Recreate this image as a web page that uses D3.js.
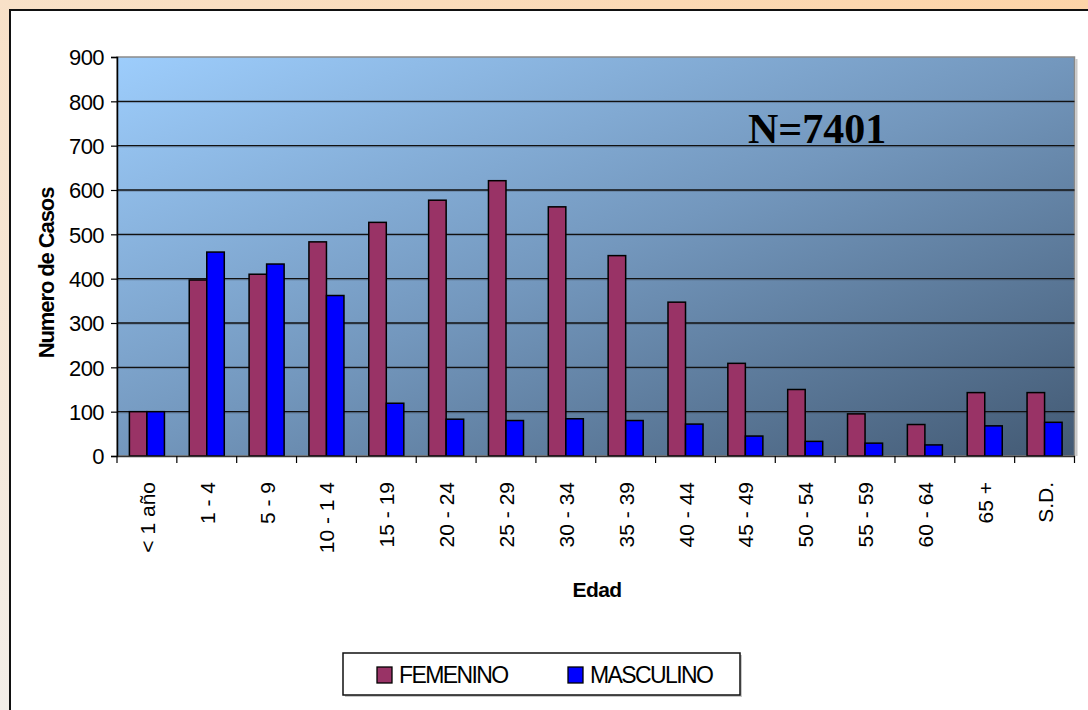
<!DOCTYPE html>
<html>
<head>
<meta charset="utf-8">
<script src="https://cdn.jsdelivr.net/npm/d3@7"></script>
<style>
  html, body { margin: 0; padding: 0; }
  body { width: 1088px; height: 710px; overflow: hidden; }
  svg { display: block; }
</style>
</head>
<body>
<svg id="chart" width="1088" height="710"></svg>
<script>
const categories = ["< 1 año", "1 - 4", "5 - 9", "10 - 1 4", "15 - 19", "20 - 24", "25 - 29", "30 - 34",
  "35 - 39", "40 - 44", "45 - 49", "50 - 54", "55 - 59", "60 - 64", "65 +", "S.D."];
const seriesNames = ["FEMENINO", "MASCULINO"];
const femenino = [100, 397, 410, 483, 527, 577, 621, 562, 452, 347, 209, 150, 95, 71, 143, 143];
const masculino = [100, 460, 433, 362, 119, 83, 80, 84, 80, 72, 45, 33, 29, 25, 68, 76];
const yTicks = [0, 100, 200, 300, 400, 500, 600, 700, 800, 900];
const colors = ["#993366", "#0000FF"];

(function () {
const svg = d3.select("#chart");
const defs = svg.append("defs");

const bg = defs.append("linearGradient").attr("id", "bgGrad")
  .attr("x1", "100%").attr("y1", "0%").attr("x2", "0%").attr("y2", "100%");
bg.append("stop").attr("offset", "0%").attr("stop-color", "#fdd4a8");
bg.append("stop").attr("offset", "100%").attr("stop-color", "#f3eee8");

const pg = defs.append("linearGradient").attr("id", "plotGrad")
  .attr("x1", "0%").attr("y1", "0%").attr("x2", "100%").attr("y2", "100%");
pg.append("stop").attr("offset", "0%").attr("stop-color", "#9dcdfc");
pg.append("stop").attr("offset", "50%").attr("stop-color", "#7397bd");
pg.append("stop").attr("offset", "100%").attr("stop-color", "#435a74");

svg.append("rect").attr("x", 0).attr("y", 0).attr("width", 1088).attr("height", 710).attr("fill", "url(#bgGrad)");
svg.append("rect").attr("x", 10).attr("y", 10).attr("width", 1100).attr("height", 720)
  .attr("fill", "#ffffff").attr("stroke", "#111").attr("stroke-width", 2);

const pLeft = 117, pRight = 1074.5, pTop = 57, pBottom = 456;

const x0 = d3.scaleBand().domain(categories).range([pLeft, pRight]).paddingInner(0).paddingOuter(0);
const x1 = d3.scaleBand().domain(seriesNames).range([0, x0.bandwidth()]).paddingInner(0).paddingOuter(0.708);
const y = d3.scaleLinear().domain([0, 900]).range([pBottom, pTop]);

svg.append("line").attr("x1", pRight + 2).attr("x2", pRight + 2).attr("y1", pTop + 2).attr("y2", pBottom)
  .attr("stroke", "#c8c8c8").attr("stroke-width", 2);
svg.append("rect").attr("x", pLeft).attr("y", pTop).attr("width", pRight - pLeft).attr("height", pBottom - pTop)
  .attr("fill", "url(#plotGrad)").attr("stroke", "#8a8a8a").attr("stroke-width", 1.5);

const grid = svg.append("g");
yTicks.filter(t => t > 0 && t < 900).forEach(t => {
  grid.append("line").attr("x1", pLeft).attr("x2", pRight).attr("y1", y(t) + 1.2).attr("y2", y(t) + 1.2)
    .attr("stroke", "rgba(60,70,85,0.35)").attr("stroke-width", 1);
  grid.append("line").attr("x1", pLeft).attr("x2", pRight).attr("y1", y(t)).attr("y2", y(t))
    .attr("stroke", "#111").attr("stroke-width", 1.4);
});

const data = categories.map((c, i) => ({ cat: c, vals: [femenino[i], masculino[i]] }));
const groups = svg.append("g").selectAll("g").data(data).join("g")
  .attr("transform", d => `translate(${x0(d.cat)},0)`);
groups.selectAll("rect").data(d => d.vals.map((v, j) => ({ s: seriesNames[j], v, j }))).join("rect")
  .attr("x", d => x1(d.s))
  .attr("y", d => y(d.v))
  .attr("width", x1.bandwidth())
  .attr("height", d => pBottom - y(d.v))
  .attr("fill", d => colors[d.j])
  .attr("stroke", "#000").attr("stroke-width", 1.5);

const yAxis = svg.append("g").attr("transform", `translate(${pLeft},0)`)
  .call(d3.axisLeft(y).tickValues(yTicks).tickSize(6).tickPadding(7).tickFormat(d3.format("d")));
yAxis.select(".domain").attr("stroke", "#000").attr("stroke-width", 1.5);
yAxis.selectAll(".tick line").attr("stroke", "#000").attr("stroke-width", 1.2);
yAxis.selectAll("text").attr("font-family", "Liberation Sans, Arial, sans-serif")
  .attr("font-size", 22).attr("letter-spacing", "-0.6px").attr("fill", "#000").attr("dy", "0.36em");

const xAxis = svg.append("g").attr("transform", `translate(0,${pBottom})`)
  .call(d3.axisBottom(x0).tickSize(0).tickPadding(0));
xAxis.select(".domain").attr("stroke", "#333").attr("stroke-width", 1.3);
xAxis.selectAll(".tick line").remove();
const bounds = categories.map(c => x0(c)).concat([pRight]);
svg.append("g").selectAll("line").data(bounds).join("line")
  .attr("x1", d => d).attr("x2", d => d).attr("y1", pBottom).attr("y2", pBottom + 7)
  .attr("stroke", "#000").attr("stroke-width", 1.2);
xAxis.selectAll(".tick text")
  .attr("font-family", "Liberation Sans, Arial, sans-serif")
  .attr("font-size", 21).attr("fill", "#000")
  .attr("text-anchor", "end")
  .attr("transform", "translate(8,26) rotate(-90)")
  .attr("x", 0).attr("y", 0).attr("dy", 0);

svg.append("text").attr("transform", "translate(54,273) rotate(-90)")
  .attr("text-anchor", "middle").attr("font-family", "Liberation Sans, Arial, sans-serif")
  .attr("font-weight", "bold").attr("font-size", 22).attr("letter-spacing", "-1.1px")
  .text("Numero de Casos");
svg.append("text").attr("x", 597).attr("y", 597).attr("text-anchor", "middle")
  .attr("font-family", "Liberation Sans, Arial, sans-serif").attr("font-weight", "bold")
  .attr("font-size", 21).attr("letter-spacing", "-0.6px").text("Edad");

svg.append("text").attr("x", 748).attr("y", 143)
  .attr("font-family", "Liberation Serif, Times New Roman, serif").attr("font-weight", "bold")
  .attr("font-size", 42).attr("fill", "#000").text("N=7401");

const lg = svg.append("g");
lg.append("rect").attr("x", 345).attr("y", 655).attr("width", 397).attr("height", 42).attr("fill", "#c8c8c8");
lg.append("rect").attr("x", 343).attr("y", 653).attr("width", 397).attr("height", 42)
  .attr("fill", "#fff").attr("stroke", "#111").attr("stroke-width", 1.5);
const legendItems = [{ x: 377, tx: 399 }, { x: 568, tx: 590 }];
seriesNames.forEach((s, i) => {
  lg.append("rect").attr("x", legendItems[i].x).attr("y", 667).attr("width", 15).attr("height", 16)
    .attr("fill", colors[i]).attr("stroke", "#000").attr("stroke-width", 1.3);
  lg.append("text").attr("x", legendItems[i].tx).attr("y", 683)
    .attr("font-family", "Liberation Sans, Arial, sans-serif").attr("font-size", 23)
    .attr("letter-spacing", "-1.6px").attr("fill", "#000").text(s);
});
})();
</script>
</body>
</html>
